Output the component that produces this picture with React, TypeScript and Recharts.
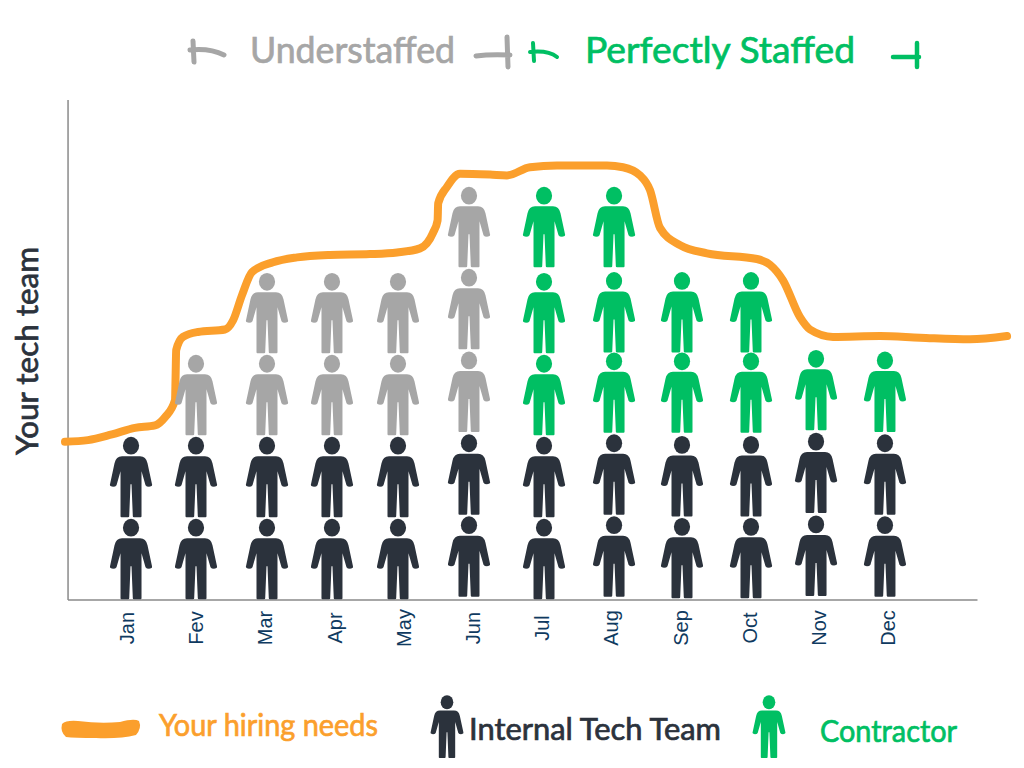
import {
  ComposedChart,
  Line,
  ReferenceLine,
  Scatter,
  XAxis,
  YAxis,
} from 'recharts';

const NAVY = '#2b323c';
const GREY = '#a6a6a6';
const GREEN = '#00bf63';
const ORANGE = '#fb9f2c';
const AXIS = '#8a8a8a';
const HAND = '"Lato", sans-serif';

const months = ['Jan', 'Fev', 'Mar', 'Apr', 'May', 'Jun', 'Jul', 'Aug', 'Sep', 'Oct', 'Nov', 'Dec'];
const monthTicks = [1, 2, 3, 4, 5, 6, 7, 8, 9, 10, 11, 12];

// each figure sits slightly off its month, like in the hand placed original
const figureX = [1.058, 1.997, 3.023, 3.962, 4.916, 5.942, 7.026, 8.038, 9.02, 10.017, 10.957, 11.953];

// stack levels per month, in "people" units (feet of each figure)
const internalLevels = [
  [0.01, 1.01], [0.01, 1.01], [0.01, 1.01], [0.01, 1.01], [0.01, 1.01], [0.04, 1.04],
  [0.01, 1.01], [0.04, 1.04], [0.02, 1.02], [0.02, 1.02], [0.05, 1.06], [0.04, 1.04],
];
const understaffedLevels = [
  [], [2.01], [2.01, 3.01], [2.01, 3.01], [2.01, 3.01], [2.05, 3.06, 4.06],
  [], [], [], [], [], [],
];
const contractorLevels = [
  [], [], [], [], [], [],
  [2.01, 3.01, 4.06], [2.04, 3.02, 4.06], [2.04, 3.02], [2.04, 3.02], [2.07], [2.05],
];

// the hand drawn needs curve
const needsX = [
  0.104, 0.436, 0.783, 1.116, 1.405, 1.549, 1.694, 1.702, 1.711, 1.809, 2.026, 2.416, 2.532, 2.662, 2.806,
  3.11, 3.457, 3.933, 4.512, 4.902, 5.234, 5.422, 5.488, 5.497, 5.624, 5.812, 6.246, 6.491, 6.824, 7.214,
  7.936, 8.167, 8.413, 8.558, 8.702, 8.991, 9.381, 10.104, 10.292, 10.48, 10.725, 10.87, 11.202, 11.882,
  12.46, 13.182, 13.717,
];
const needsY = [
  1.93, 1.95, 2.02, 2.1, 2.13, 2.23, 2.44, 2.72, 3.05, 3.21, 3.27, 3.3, 3.41, 3.72, 4.0,
  4.12, 4.18, 4.21, 4.22, 4.24, 4.29, 4.48, 4.63, 4.84, 5.04, 5.2, 5.19, 5.18, 5.28, 5.3,
  5.3, 5.28, 5.18, 5.0, 4.54, 4.33, 4.23, 4.16, 4.09, 3.9, 3.45, 3.3, 3.21, 3.22,
  3.2, 3.18, 3.22,
];

const toPoints = (levels: number[][]) =>
  levels.flatMap((row, i) => row.map((y) => ({ x: figureX[i], y })));

const needsData = needsX.map((x, i) => ({ x, y: needsY[i] }));

const BODY =
  'M-10.5 -1Q-10.5 0 -9.5 0L-3 0Q-1.8 0 -1.8 -1L-0.5 -33L0.5 -33L1.8 -1Q1.8 0 3 0L9.5 0Q10.5 0 10.5 -1L10.5 -46L14.5 -32Q15.5 -30.5 18 -30.5L20 -31Q21.5 -31.5 21 -33L16.5 -54Q15 -61 9 -61L-9 -61Q-15 -61 -16.5 -54L-21 -33Q-21.5 -31.5 -20 -31L-18 -30.5Q-15.5 -30.5 -14.5 -32L-10.5 -46Z';

function Person({ cx, cy, fill, scale = 1 }: { cx: number; cy: number; fill: string; scale?: number }) {
  return (
    <g transform={`translate(${cx} ${cy}) scale(${scale})`} fill={fill}>
      <ellipse cx={0} cy={-71.5} rx={8.1} ry={8.9} />
      <path d={BODY} />
    </g>
  );
}

const personShape = (fill: string) => (props: any) => <Person cx={props.cx} cy={props.cy} fill={fill} />;

function MonthTick({ x, y, payload }: any) {
  return (
    <text
      transform={`translate(${x + 7} ${y + 20}) rotate(-90)`}
      textAnchor="middle"
      fontFamily='"Liberation Sans", sans-serif'
      fontSize={20}
      fill="#0f3a60"
    >
      {months[payload.value - 1]}
    </text>
  );
}

function Overlay() {
  const label = { fontFamily: HAND, fontWeight: 400, lengthAdjust: 'spacingAndGlyphs', strokeWidth: 0.7 } as const;
  return (
    <svg width={1024} height={768} style={{ position: 'absolute', left: 0, top: 0 }}>
      <g fill="none" strokeLinecap="round" strokeWidth={5}>
        <path d="M193 41L194 62M190 50Q210 48 224 55" stroke={GREY} />
        <path d="M476 56Q490 54 510 55M507 37L508 67" stroke={GREY} />
        <path d="M533 43L534 61M530 52Q548 50 557 57" stroke={GREEN} strokeWidth={4} />
        <path d="M893 57L919 57M917 43L917 67" stroke={GREEN} strokeWidth={4.5} />
      </g>
      <text x={250} y={63} fontSize={36} fill={GREY} stroke={GREY} textLength={205} {...label}>Understaffed</text>
      <text x={585} y={63} fontSize={36} fill={GREEN} stroke={GREEN} textLength={270} {...label}>Perfectly Staffed</text>

      <text
        transform="translate(38 455) rotate(-90)"
        fontSize={31}
        fill={NAVY}
        stroke={NAVY}
        textLength={208}
        {...label}
      >
        Your tech team
      </text>

      <path
        d="M62 724Q66 720 78 721Q100 724 120 722Q134 718 139 721Q142 728 136 735Q120 739 96 738Q74 738 66 737Q60 732 62 724Z"
        fill={ORANGE}
      />
      <text x={159} y={736} fontSize={30} fill={ORANGE} stroke={ORANGE} textLength={219} {...label}>Your hiring needs</text>
      <Person cx={447} cy={758} fill={NAVY} scale={0.78} />
      <text x={469} y={740} fontSize={30} fill={NAVY} stroke={NAVY} textLength={252} {...label}>Internal Tech Team</text>
      <Person cx={769} cy={758} fill={GREEN} scale={0.78} />
      <text x={820} y={742} fontSize={30} fill={GREEN} stroke={GREEN} textLength={137} {...label}>Contractor</text>
    </svg>
  );
}

export default function App() {
  return (
    <div style={{ position: 'absolute', left: 0, top: 0, width: 1024, height: 768 }}>
      <ComposedChart
        width={1024}
        height={768}
        margin={{ top: 100, right: 4.3, bottom: 108, left: 57.8 }}
      >
        <XAxis
          dataKey="x"
          type="number"
          domain={[0, 13.9]}
          ticks={monthTicks}
          interval={0}
          height={60}
          axisLine={false}
          tickLine={false}
          tick={<MonthTick />}
        />
        <YAxis type="number" domain={[0, 6.1]} hide />
        <ReferenceLine segment={[{ x: 0.148, y: 0 }, { x: 13.29, y: 0 }]} stroke={AXIS} strokeWidth={1.5} ifOverflow="visible" />
        <ReferenceLine segment={[{ x: 0.148, y: 0 }, { x: 0.148, y: 6.1 }]} stroke={AXIS} strokeWidth={1.5} ifOverflow="visible" />
        <Scatter data={toPoints(internalLevels)} dataKey="y" shape={personShape(NAVY)} isAnimationActive={false} />
        <Scatter data={toPoints(understaffedLevels)} dataKey="y" shape={personShape(GREY)} isAnimationActive={false} />
        <Scatter data={toPoints(contractorLevels)} dataKey="y" shape={personShape(GREEN)} isAnimationActive={false} />
        <Line
          data={needsData}
          dataKey="y"
          type="monotone"
          stroke={ORANGE}
          strokeWidth={8}
          strokeLinecap="round"
          strokeLinejoin="round"
          dot={false}
          activeDot={false}
          isAnimationActive={false}
        />
      </ComposedChart>
      <Overlay />
    </div>
  );
}
